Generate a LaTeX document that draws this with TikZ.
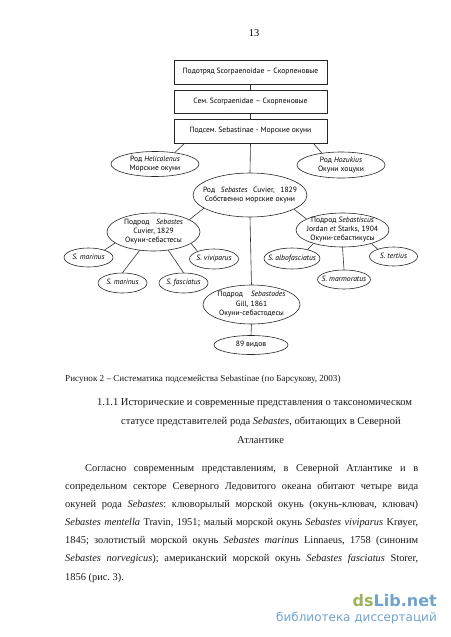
\documentclass[tikz,border=0pt]{standalone}
\usepackage{fontspec}
\setmainfont{Liberation Serif}
\newfontfamily\dg{PT Sans}
\newfontfamily\wm{DejaVu Sans}
\usetikzlibrary{shapes.geometric}
\definecolor{wmgreen}{HTML}{9DB35A}
\definecolor{wmblue}{HTML}{6FA3CC}
\frenchspacing
\newcommand\zt[1]{\makebox[0pt]{\raisebox{-1.8pt}[0pt][0pt]{\begin{tabular}{@{}c@{}}#1\end{tabular}}}}
\newcommand\fl[2]{\makebox[#1pt][s]{#2}}
\tikzset{
 boxn/.style={draw=black!85,line width=.6pt,minimum width=153pt,minimum height=24pt,inner sep=0pt,font=\dg\fontsize{7.6}{9.3}\selectfont},
 ell/.style={draw=black!85,line width=.6pt,ellipse,inner sep=0pt,font=\dg\fontsize{7.6}{9.3}\selectfont},
 lnk/.style={draw=black!80,line width=.6pt},
 capt/.style={anchor=base west,inner sep=0pt,font=\fontsize{9.1}{10}\selectfont,text=black!90},
 head/.style={anchor=base west,inner sep=0pt,font=\fontsize{10.55}{12}\selectfont,text=black!90},
 body/.style={anchor=base west,inner sep=0pt,font=\fontsize{10.4}{12}\selectfont,text=black!90}
}
\begin{document}
\begin{tikzpicture}[x=1pt,y=-1pt]
\useasboundingbox (0,0) rectangle (450,637);
\node[inner sep=0pt,font=\fontsize{10.4}{12}\selectfont] (pg) at (254,33) {13};
\node[boxn] (b1) at (250.5,72) {Подотряд Scorpaenoidae – Скорпеновые};
\node[boxn,minimum height=23pt] (b2) at (250.5,101.5) {Сем. Scorpaenidae – Скорпеновые};
\node[boxn] (b3) at (250.5,131) {Подсем. Sebastinae - Морские окуни};
\node[ell,minimum width=88pt,minimum height=25pt] (hel) at (155,164) {\zt{Род \textit{Helicolenus}\\Морские окуни}};
\node[ell,minimum width=88pt,minimum height=26pt] (hoz) at (341,165) {\zt{Род \textit{Hozukius}\\Окуни хоцуки}};
\node[ell,minimum width=114pt,minimum height=44pt] (rod) at (250,195) {\zt{\fl{94}{Род \textit{Sebastes} Cuvier, 1829}\\Собственно морские окуни}};
\node[ell,minimum width=93pt,minimum height=38pt] (ps) at (153.5,232) {\zt{\fl{59}{Подрод \textit{Sebastes}}\\Cuvier, 1829\\Окуни-себастесы}};
\node[ell,minimum width=49pt,minimum height=19pt] (m1) at (88.5,257.5) {\zt{\textit{S. marinus}}};
\node[ell,minimum width=49pt,minimum height=20pt] (m2) at (122.5,283) {\zt{\textit{S. marinus}}};
\node[ell,minimum width=49pt,minimum height=20pt] (fa) at (183.5,283) {\zt{\textit{S. fasciatus}}};
\node[ell,minimum width=49pt,minimum height=20pt] (vi) at (214,259) {\zt{\textit{S. viviparus}}};
\node[ell,minimum width=93pt,minimum height=34pt] (pc) at (342.5,230) {\zt{Подрод \textit{Sebastiscus}\\Jordan \textit{et} Starks, 1904\\Окуни-себастикусы}};
\node[ell,minimum width=56pt,minimum height=21pt] (al) at (292,258.5) {\zt{\textit{S. albofasciatus}}};
\node[ell,minimum width=53pt,minimum height=19pt] (ma) at (344,279.5) {\zt{\textit{S. marmoratus}}};
\node[ell,minimum width=48pt,minimum height=19pt] (te) at (393.5,256.5) {\zt{\textit{S. tertius}}};
\node[ell,minimum width=97pt,minimum height=39pt] (pd) at (251.5,304.5) {\zt{\fl{68}{Подрод \textit{Sebastodes}}\\Gill, 1861\\Окуни-себастодесы}};
\node[ell,minimum width=74pt,minimum height=19pt] (n89) at (251,345) {\zt{89 видов}};

\draw[lnk] (b1.south) -- (b2.north);
\draw[lnk] (b2.south) -- (b3.north);
\draw[lnk] (b3.south) -- (rod.north);
\draw[lnk] ([xshift=11pt]b3.south west) -- (hel.30);
\draw[lnk] ([xshift=-14pt]b3.south east) -- (hoz.148);
\draw[lnk] (rod.196) -- (ps.19);
\draw[lnk] (rod.342) -- (pc.163);
\draw[lnk] (rod.south) -- (pd.north);
\draw[lnk] (ps.196) -- (m1.25);
\draw[lnk] (ps.233) -- (m2.north);
\draw[lnk] (ps.309) -- (fa.north);
\draw[lnk] (ps.343) -- (vi.155);
\draw[lnk] (pc.205) -- (al.30);
\draw[lnk] (pc.south) -- (ma.north);
\draw[lnk] (pc.335) -- (te.155);
\draw[lnk] (pd.south) -- (n89.north);

\node[capt] (cap) at (65,381) {Рисунок 2 – Систематика подсемейства Sebastinae (по Барсукову, 2003)};
\node[head] (h1) at (97,405) {1.1.1 Исторические и современные представления о таксономическом};
\node[head] (h2) at (121,424) {статусе представителей рода \textit{Sebastes}, обитающих в Северной};
\node[head] (h3) at (237,443) {Атлантике};
\node[body] (l1) at (85,471) {\fl{333}{Согласно современным представлениям, в Северной Атлантике и в}};
\node[body] (l2) at (65,489) {\fl{353}{сопредельном секторе Северного Ледовитого океана обитают четыре вида}};
\node[body] (l3) at (65,507) {\fl{353}{окуней рода \textit{Sebastes}: клюворылый морской окунь (окунь-клювач, клювач)}};
\node[body] (l4) at (65,525.5) {\fl{353}{\textit{Sebastes mentella} Travin, 1951; малый морской окунь \textit{Sebastes viviparus} Krøyer,}};
\node[body] (l5) at (65,543.5) {\fl{353}{1845; золотистый морской окунь \textit{Sebastes marinus} Linnaeus, 1758 (синоним}};
\node[body] (l6) at (65,561.5) {\fl{353}{\textit{Sebastes norvegicus}); американский морской окунь \textit{Sebastes fasciatus} Storer,}};
\node[body] (l7) at (65,580) {1856 (рис. 3).};
\node[anchor=base east,inner sep=0pt,font=\wm\bfseries\fontsize{16}{20}\selectfont] (wm1) at (437,606) {\textcolor{wmgreen}{ds}\textcolor{wmblue}{Lib.net}};
\node[anchor=base east,inner sep=0pt,font=\wm\fontsize{12}{13}\selectfont,text=wmblue] (wm2) at (437,621) {библиотека диссертаций};
\end{tikzpicture}
\end{document}
